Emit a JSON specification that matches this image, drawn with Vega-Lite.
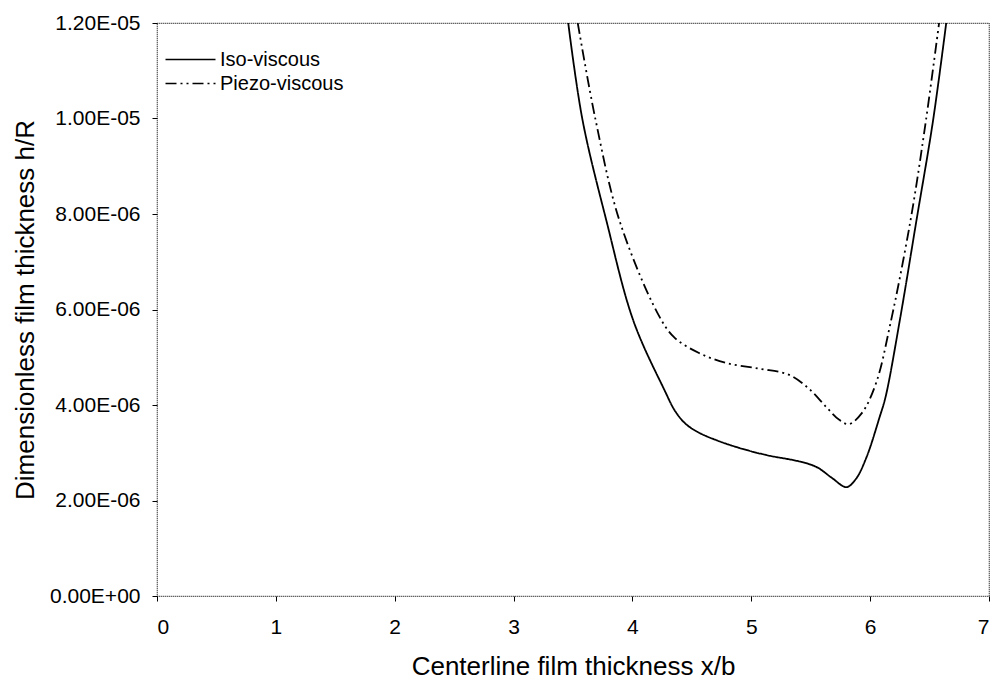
{
  "$schema": "https://vega.github.io/schema/vega-lite/v6.json",
  "autosize": "none",
  "width": 832,
  "height": 573,
  "padding": {"left": 157, "top": 23, "right": 6, "bottom": 83},
  "background": "white",
  "config": {
    "font": "Liberation Sans",
    "view": {"stroke": "#222", "strokeWidth": 1.2, "strokeDash": [1, 1]},
    "axis": {"grid": false, "domain": false, "tickColor": "black", "tickSize": 5, "labelColor": "black", "titleColor": "black", "labelFontSize": 21, "titleFontSize": 26, "titleFontWeight": "normal", "labelFont": "Liberation Sans", "titleFont": "Liberation Sans"}
  },
  "data": {"values": [
    {"x": 3.46, "h": 12.0, "series": "Iso-viscous"},
    {"x": 3.58, "h": 9.97, "series": "Iso-viscous"},
    {"x": 3.78, "h": 7.87, "series": "Iso-viscous"},
    {"x": 4.01, "h": 5.75, "series": "Iso-viscous"},
    {"x": 4.27, "h": 4.31, "series": "Iso-viscous"},
    {"x": 4.36, "h": 3.87, "series": "Iso-viscous"},
    {"x": 4.45, "h": 3.6, "series": "Iso-viscous"},
    {"x": 4.56, "h": 3.42, "series": "Iso-viscous"},
    {"x": 4.71, "h": 3.26, "series": "Iso-viscous"},
    {"x": 4.90, "h": 3.10, "series": "Iso-viscous"},
    {"x": 5.13, "h": 2.95, "series": "Iso-viscous"},
    {"x": 5.40, "h": 2.82, "series": "Iso-viscous"},
    {"x": 5.55, "h": 2.70, "series": "Iso-viscous"},
    {"x": 5.68, "h": 2.47, "series": "Iso-viscous"},
    {"x": 5.80, "h": 2.28, "series": "Iso-viscous"},
    {"x": 5.88, "h": 2.45, "series": "Iso-viscous"},
    {"x": 5.97, "h": 2.91, "series": "Iso-viscous"},
    {"x": 6.08, "h": 3.75, "series": "Iso-viscous"},
    {"x": 6.13, "h": 4.17, "series": "Iso-viscous"},
    {"x": 6.25, "h": 5.78, "series": "Iso-viscous"},
    {"x": 6.39, "h": 7.87, "series": "Iso-viscous"},
    {"x": 6.53, "h": 9.97, "series": "Iso-viscous"},
    {"x": 6.64, "h": 12.0, "series": "Iso-viscous"},
    {"x": 3.54, "h": 12.0, "series": "Piezo-viscous"},
    {"x": 3.69, "h": 9.97, "series": "Piezo-viscous"},
    {"x": 3.89, "h": 7.87, "series": "Piezo-viscous"},
    {"x": 4.21, "h": 5.93, "series": "Piezo-viscous"},
    {"x": 4.35, "h": 5.42, "series": "Piezo-viscous"},
    {"x": 4.56, "h": 5.09, "series": "Piezo-viscous"},
    {"x": 4.79, "h": 4.88, "series": "Piezo-viscous"},
    {"x": 5.07, "h": 4.76, "series": "Piezo-viscous"},
    {"x": 5.32, "h": 4.63, "series": "Piezo-viscous"},
    {"x": 5.49, "h": 4.33, "series": "Piezo-viscous"},
    {"x": 5.63, "h": 3.96, "series": "Piezo-viscous"},
    {"x": 5.74, "h": 3.69, "series": "Piezo-viscous"},
    {"x": 5.82, "h": 3.60, "series": "Piezo-viscous"},
    {"x": 5.93, "h": 3.83, "series": "Piezo-viscous"},
    {"x": 6.05, "h": 4.46, "series": "Piezo-viscous"},
    {"x": 6.17, "h": 5.7, "series": "Piezo-viscous"},
    {"x": 6.34, "h": 7.87, "series": "Piezo-viscous"},
    {"x": 6.47, "h": 9.97, "series": "Piezo-viscous"},
    {"x": 6.58, "h": 12.0, "series": "Piezo-viscous"}
  ]},
  "transform": [{"calculate": "datum.h * 1e-6", "as": "hR"}],
  "mark": {"type": "line", "interpolate": "catmull-rom", "clip": true, "color": "black", "strokeWidth": 1.8},
  "encoding": {
    "x": {"field": "x", "type": "quantitative", "scale": {"domain": [0, 7], "nice": false, "zero": false},
      "axis": {"values": [0,1,2,3,4,5,6,7], "title": "Centerline film thickness x/b", "labelPadding": 15, "titlePadding": 16}},
    "y": {"field": "hR", "type": "quantitative", "scale": {"domain": [0, 0.000012], "nice": false},
      "axis": {"values": [0, 0.000002, 0.000004, 0.000006, 0.000008, 0.00001, 0.000012], "title": "Dimensionless film thickness h/R", "labelPadding": 12, "titlePadding": 11,
        "labelExpr": "datum.value == 0 ? '0.00E+00' : replace(upper(format(datum.value, '.2e')), 'E-', 'E-0')"}},
    "strokeDash": {"field": "series", "type": "nominal",
      "scale": {"domain": ["Iso-viscous", "Piezo-viscous"], "range": [[1, 0], [11, 4, 2, 4, 2, 4]]},
      "legend": {"title": null, "orient": "none", "legendX": 20, "legendY": 23, "symbolType": "M-2,0H2", "symbolSize": 625, "symbolStrokeColor": "black", "symbolFillColor": "transparent", "symbolStrokeWidth": 1.6, "labelFontSize": 20, "labelColor": "black", "rowPadding": 0, "labelOffset": 16, "padding": 0}}
  }
}
